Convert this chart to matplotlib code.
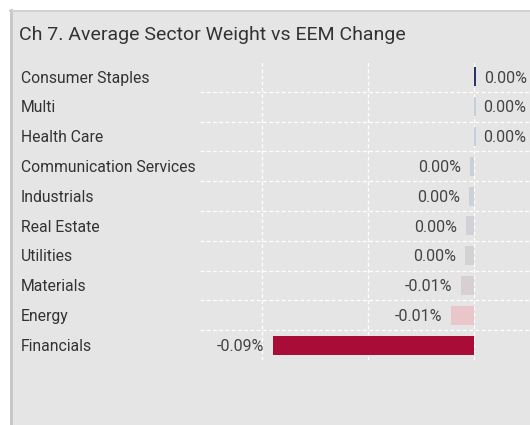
import matplotlib
matplotlib.use("Agg")
import matplotlib.pyplot as plt
from matplotlib.lines import Line2D
from matplotlib.transforms import blended_transform_factory

title = "Ch 7. Average Sector Weight vs EEM Change"
categories = ["Consumer Staples", "Multi", "Health Care", "Communication Services",
              "Industrials", "Real Estate", "Utilities", "Materials", "Energy", "Financials"]
values = [0.0011, 0.0008, 0.0008, -0.0020, -0.0024, -0.0038, -0.0042, -0.0061, -0.0108, -0.0948]
colors = ["#2b3466", "#c6cfd9", "#c6cfd9", "#cbd0d8", "#cdd1d7", "#d2d1d7",
          "#d4d1d5", "#d7cfd2", "#e8c6c9", "#a80c37"]
xticks = [-0.10, -0.05, 0.0]

FONT = ["Roboto", "DejaVu Sans"]
W, H = 530, 425
fig = plt.figure(figsize=(W / 100, H / 100), dpi=100)
fig.patch.set_facecolor("white")

# panel
bg = fig.add_axes([10 / W, 0, 1 - 10 / W, 1 - 10 / H], zorder=-5)
bg.set_facecolor("#e5e5e5")
bg.set_xticks([])
bg.set_yticks([])
for s in bg.spines.values():
    s.set_visible(False)
fig.lines.append(Line2D([11.2 / W, 11.2 / W], [0, 1 - 10 / H], transform=fig.transFigure,
                        color="#c6c6c6", lw=2.0, zorder=5))
fig.lines.append(Line2D([10 / W, 1], [1 - 10.8 / H, 1 - 10.8 / H], transform=fig.transFigure,
                        color="#d0d0d0", lw=1.3, zorder=5))

fig.text(19 / W, 1 - 35 / H, title, fontsize=14, color="#333333", va="center", ha="left",
         family=FONT)

ax = fig.add_axes([200 / W, 1 - 360 / H, 330 / W, 298 / H])
ax.set_facecolor("none")
for s in ax.spines.values():
    s.set_visible(False)

y = list(range(len(categories)))
ax.barh(y, values, height=0.64, color=colors, zorder=3)
ax.set_ylim(len(categories) - 0.5, -0.5)
ax.set_xlim(-0.12925, 0.0264)

ax.set_xticks(xticks)
ax.set_yticks([i + 0.5 for i in range(len(categories) - 1)])
ax.tick_params(left=False, bottom=False, labelleft=False, labelbottom=False)
ax.grid(True, color="white", lw=0.9, linestyle=(0, (3, 2)), zorder=1)

tr = blended_transform_factory(fig.transFigure, ax.transData)
for i, (c, v) in enumerate(zip(categories, values)):
    ax.annotate(c, (21 / W, i), xycoords=tr, xytext=(0, -0.8), textcoords="offset points",
                fontsize=11.3, color="#333333", va="center", ha="left",
                family=FONT, annotation_clip=False)
    lab = f"{round(v, 2) + 0.0:.2f}%"
    if v >= 0:
        ax.annotate(lab, (v, i), xytext=(5.5, -0.8), textcoords="offset points", va="center", ha="left",
                    fontsize=11.5, color="#444444", family=FONT, annotation_clip=False)
    else:
        ax.annotate(lab, (v, i), xytext=(-6.5, -0.8), textcoords="offset points", va="center", ha="right",
                    fontsize=11.5, color="#444444", family=FONT, annotation_clip=False)

fig.savefig("out.png", dpi=100)
